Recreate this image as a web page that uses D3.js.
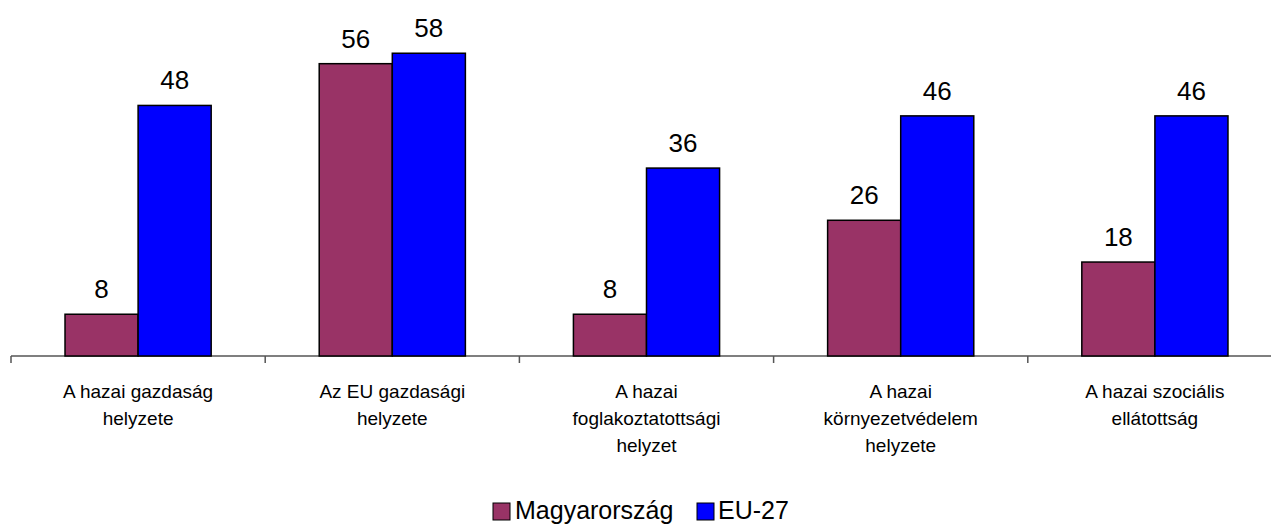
<!DOCTYPE html>
<html><head><meta charset="utf-8">
<script src="https://cdn.jsdelivr.net/npm/d3@7"></script>
<style>html,body{margin:0;padding:0;background:#fff;overflow:hidden}svg{display:block}</style>
</head><body>
<script>
const categories = [
  ["A hazai gazdaság", "helyzete"],
  ["Az EU gazdasági", "helyzete"],
  ["A hazai", "foglakoztatottsági", "helyzet"],
  ["A hazai", "környezetvédelem", "helyzete"],
  ["A hazai szociális", "ellátottság"]
];
const seriesNames = ["Magyarország", "EU-27"];
const magyarorszag = [8, 56, 8, 26, 18];
const eu27 = [48, 58, 36, 46, 46];
const colors = ["#993366", "#0000FF"];

const W = 1271, H = 526;
const svg = d3.select("body").append("svg").attr("width", W).attr("height", H);
const font = "'Liberation Sans', Arial, sans-serif";

const catKeys = categories.map((c, i) => i);
const x0 = d3.scaleBand().domain(catKeys).range([11, 1282]).padding(0);
const groupW = x0.bandwidth() * 0.575;
const x1 = d3.scaleBand().domain(seriesNames).range([0, groupW]).padding(0);
const y = d3.scaleLinear().domain([0, 60]).range([356, 356 - 5.22 * 60]);

const data = catKeys.map(i => ({ i, vals: [magyarorszag[i], eu27[i]] }));

// axis line
const axis = d3.axisBottom(x0).tickSize(0).tickFormat("");
const ag = svg.append("g").attr("transform", `translate(0,${y(0)})`).call(axis);
ag.select(".domain").attr("stroke", "#555").attr("stroke-width", 1.5).attr("d", `M11,0H${W}`);
// boundary ticks
ag.selectAll(".btick").data(catKeys).enter().append("line")
  .attr("x1", d => x0(d)).attr("x2", d => x0(d))
  .attr("y1", 0).attr("y2", 7).attr("stroke", "#555").attr("stroke-width", 1.5);

const groups = svg.selectAll(".grp").data(data).enter().append("g")
  .attr("transform", d => `translate(${x0(d.i) + (x0.bandwidth() - groupW) / 2},0)`);

groups.selectAll("rect").data(d => d.vals.map((v, k) => ({ v, k }))).enter().append("rect")
  .attr("x", d => x1(seriesNames[d.k]))
  .attr("y", d => y(d.v))
  .attr("width", x1.bandwidth())
  .attr("height", d => y(0) - y(d.v))
  .attr("fill", d => colors[d.k])
  .attr("stroke", "#000").attr("stroke-width", 1.5);

groups.selectAll("text.val").data(d => d.vals.map((v, k) => ({ v, k }))).enter().append("text")
  .attr("class", "val")
  .attr("x", d => x1(seriesNames[d.k]) + x1.bandwidth() / 2)
  .attr("y", d => y(d.v) - 16)
  .attr("text-anchor", "middle")
  .attr("font-family", font).attr("font-size", 26).attr("fill", "#000")
  .text(d => d.v);

// category labels
svg.selectAll(".cat").data(data).enter().append("text")
  .attr("class", "cat")
  .attr("text-anchor", "middle")
  .attr("font-family", font).attr("font-size", 19).attr("fill", "#000")
  .each(function (d) {
    const t = d3.select(this);
    categories[d.i].forEach((line, li) => {
      t.append("tspan").attr("x", x0(d.i) + x0.bandwidth() / 2).attr("y", 398 + li * 27).text(line);
    });
  });

// legend
const legendItems = [{ name: seriesNames[0], x: 493, tx: 515 }, { name: seriesNames[1], x: 697, tx: 718 }];
const lg = svg.selectAll(".lg").data(legendItems).enter().append("g");
lg.append("rect").attr("x", d => d.x).attr("y", 503).attr("width", 17).attr("height", 17)
  .attr("fill", (d, i) => colors[i]).attr("stroke", "#000").attr("stroke-width", 1);
lg.append("text").attr("x", d => d.tx).attr("y", 519)
  .attr("font-family", font).attr("font-size", 25).attr("fill", "#000").text(d => d.name);
</script>
</body></html>
